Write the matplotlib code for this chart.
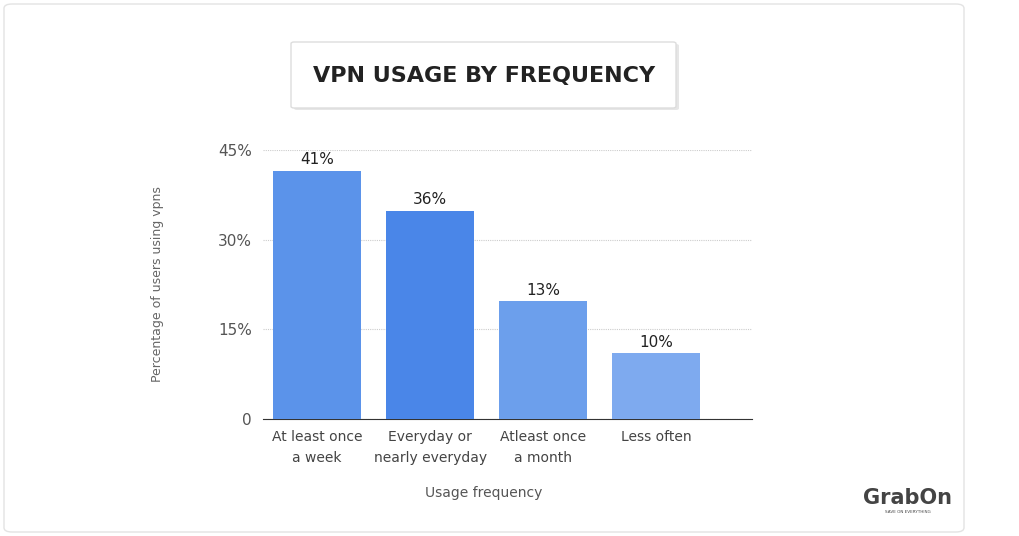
import matplotlib
matplotlib.use("Agg")
import matplotlib.pyplot as plt
from matplotlib.patches import FancyBboxPatch

categories = ["At least once\na week", "Everyday or\nnearly everyday", "Atleast once\na month", "Less often"]
bar_heights = [41.5, 34.8, 19.7, 11.0]
value_labels = ["41%", "36%", "13%", "10%"]
colors = ["#5b93ea", "#4a86e8", "#6c9fec", "#7eaaef"]
yticks = [0, 15, 30, 45]
ytick_labels = ["0", "15%", "30%", "45%"]

W, H = 1019, 536
fig = plt.figure(figsize=(W/100, H/100), dpi=100)
fig.patch.set_facecolor("white")

card = FancyBboxPatch((4/W, 4/H), 960/W, 528/H, boxstyle="round,pad=0,rounding_size=0.008",
                      transform=fig.transFigure, facecolor="white", edgecolor="#e3e3e3", lw=1, zorder=-2)
fig.patches.append(card)
shadow = FancyBboxPatch((294/W, (536-110)/H), 385/W, 66/H, boxstyle="round,pad=0,rounding_size=0.003",
                        transform=fig.transFigure, facecolor="#e6e6e6", edgecolor="none", zorder=-1)
fig.patches.append(shadow)
tbox = FancyBboxPatch((291/W, (536-108)/H), 385/W, 66/H, boxstyle="round,pad=0,rounding_size=0.003",
                      transform=fig.transFigure, facecolor="white", edgecolor="#dddddd", lw=1, zorder=-1)
fig.patches.append(tbox)
fig.text(484/W, 1-76/H, "VPN USAGE BY FREQUENCY", ha="center", va="center",
         fontsize=16, fontweight="bold", color="#222222", family="DejaVu Sans")

ax = fig.add_axes([263/W, 1-419/H, 489/W, 269/H])
ax.set_zorder(5)
ax.patch.set_alpha(0)
x = range(len(categories))
ax.bar(x, bar_heights, width=0.78, color=colors, zorder=3)
for i, (h, l) in enumerate(zip(bar_heights, value_labels)):
    ax.text(i, h + 0.6, l, ha="center", va="bottom", fontsize=11, color="#222222")
ax.set_xlim(-0.48, 3.85)
ax.set_ylim(0, 45)
ax.set_yticks(yticks)
ax.set_yticklabels(ytick_labels, fontsize=11, color="#555555")
ax.set_xticks(list(x))
ax.set_xticklabels(categories, fontsize=10, color="#444444", linespacing=1.6)
ax.tick_params(length=0, pad=8)
ax.grid(axis="y", color="#cccccc", linestyle=(0, (1, 1)), lw=0.8, zorder=0)
for s in ["top", "right", "left"]:
    ax.spines[s].set_visible(False)
ax.spines["bottom"].set_color("#333333")
ax.set_xlabel("Usage frequency", fontsize=10, color="#555555")
ax.xaxis.set_label_coords((484-263)/489, -(486-419)/269)
ax.set_ylabel("Percentage of users using vpns", fontsize=9, color="#666666")
ax.yaxis.set_label_coords(-(263-164)/489, (419-284)/269)

fig.text(908/W, 1-498/H, "GrabOn", ha="center", va="center", fontsize=15, fontweight="bold", color="#444444")
fig.text(908/W, 1-512/H, "SAVE ON EVERYTHING", ha="center", va="center", fontsize=3, color="#444444")

fig.savefig("out.png", dpi=100)
